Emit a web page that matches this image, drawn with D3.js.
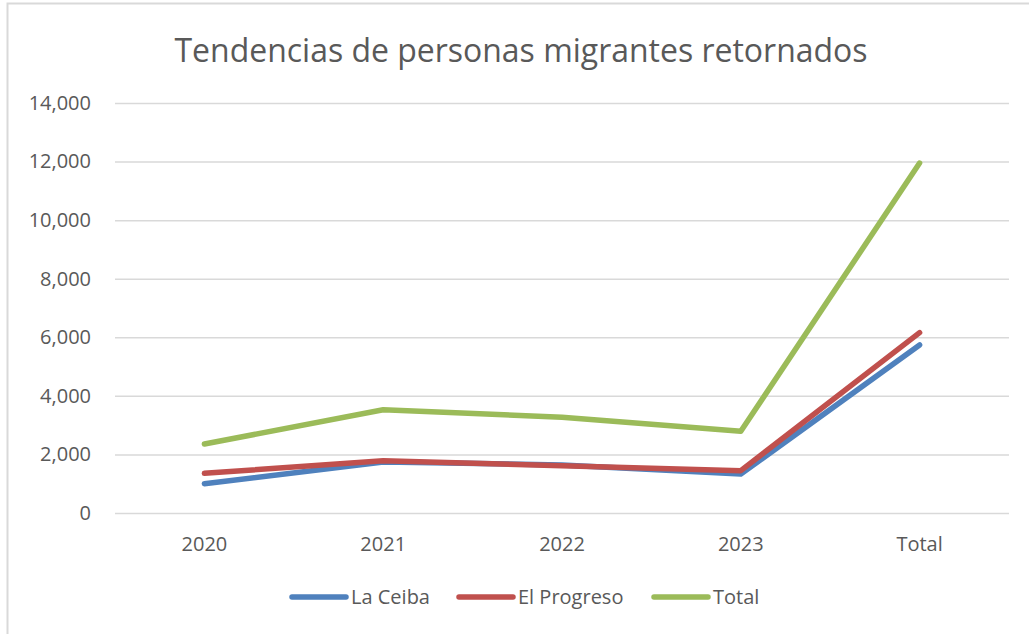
<!DOCTYPE html>
<html>
<head>
<meta charset="utf-8">
<script src="https://cdn.jsdelivr.net/npm/d3@7"></script>
<style>
  body { margin: 0; background: #fff; }
  text { font-family: "Open Sans", sans-serif; fill: #595959; }
</style>
</head>
<body>
<div id="chart"></div>
<script>
// data
const categories = ["2020", "2021", "2022", "2023", "Total"];
const laCeiba = [1000, 1740, 1640, 1330, 5740];
const elProgreso = [1355, 1785, 1610, 1445, 6160];
const totalSeries = [2355, 3525, 3270, 2790, 11950];
const yTicks = [0, 2000, 4000, 6000, 8000, 10000, 12000, 14000];
const seriesNames = ["La Ceiba", "El Progreso", "Total"];
const colors = ["#4f81bd", "#c0504d", "#9bbb59"];

const w = 1029;
const h = 634;
const fmt = d3.format(",");

const svg = d3.select("#chart").append("svg")
  .attr("width", w)
  .attr("height", h);

// outer frame (chart area border)
svg.append("rect")
  .attr("x", 7.5).attr("y", 3.5)
  .attr("width", w + 20).attr("height", h + 20)
  .style("fill", "none")
  .style("stroke", "#d9d9d9")
  .style("stroke-width", 2);

// title
svg.append("text")
  .attr("x", 521)
  .attr("y", 62)
  .style("text-anchor", "middle")
  .style("font-size", "33px")
  .attr("textLength", 693)
  .attr("lengthAdjust", "spacingAndGlyphs")
  .text("Tendencias de personas migrantes retornados");

// scales
const xScale = d3.scaleBand()
  .domain(categories)
  .range([115, 1009]);
const yScale = d3.scaleLinear()
  .domain([0, 14000])
  .range([513, 103]);
const xc = d => xScale(d) + xScale.bandwidth() / 2;

// gridlines + y labels
const yAxis = d3.axisLeft(yScale)
  .tickValues(yTicks)
  .tickSize(-(1009 - 115))
  .tickPadding(24)
  .tickFormat(fmt);

const gy = svg.append("g")
  .attr("transform", "translate(115,0)")
  .call(yAxis);
gy.select(".domain").remove();
gy.selectAll(".tick line")
  .style("stroke", "#d9d9d9")
  .style("stroke-width", 1.5);
gy.selectAll(".tick text")
  .style("font-size", "20px")
  .style("font-family", "'Open Sans', sans-serif")
  .style("fill", "#595959");

// x labels
const xAxis = d3.axisBottom(xScale).tickSize(0).tickPadding(24);
const gx = svg.append("g")
  .attr("transform", "translate(0,513)")
  .call(xAxis);
gx.select(".domain").remove();
gx.selectAll(".tick text")
  .style("font-size", "20px")
  .style("font-family", "'Open Sans', sans-serif")
  .style("fill", "#595959");

// lines
const allSeries = [laCeiba, elProgreso, totalSeries];
const line = d3.line()
  .x((d, i) => xc(categories[i]))
  .y(d => yScale(d));

svg.selectAll(".series")
  .data(allSeries)
  .enter()
  .append("path")
  .attr("class", "series")
  .attr("d", line)
  .style("fill", "none")
  .style("stroke", (d, i) => colors[i])
  .style("stroke-width", 5.5)
  .style("stroke-linecap", "round")
  .style("stroke-linejoin", "round");

// legend
const legendX = [292, 459, 654];
const legend = svg.selectAll(".legend")
  .data(seriesNames)
  .enter()
  .append("g")
  .attr("class", "legend")
  .attr("transform", (d, i) => "translate(" + legendX[i] + ",597)");

legend.append("line")
  .attr("x1", 0).attr("x2", 54)
  .attr("y1", 0).attr("y2", 0)
  .style("stroke", (d, i) => colors[i])
  .style("stroke-width", 5.5)
  .style("stroke-linecap", "round");

legend.append("text")
  .attr("x", 59)
  .attr("y", 7)
  .style("font-size", "20px")
  .text(d => d);
</script>
</body>
</html>
